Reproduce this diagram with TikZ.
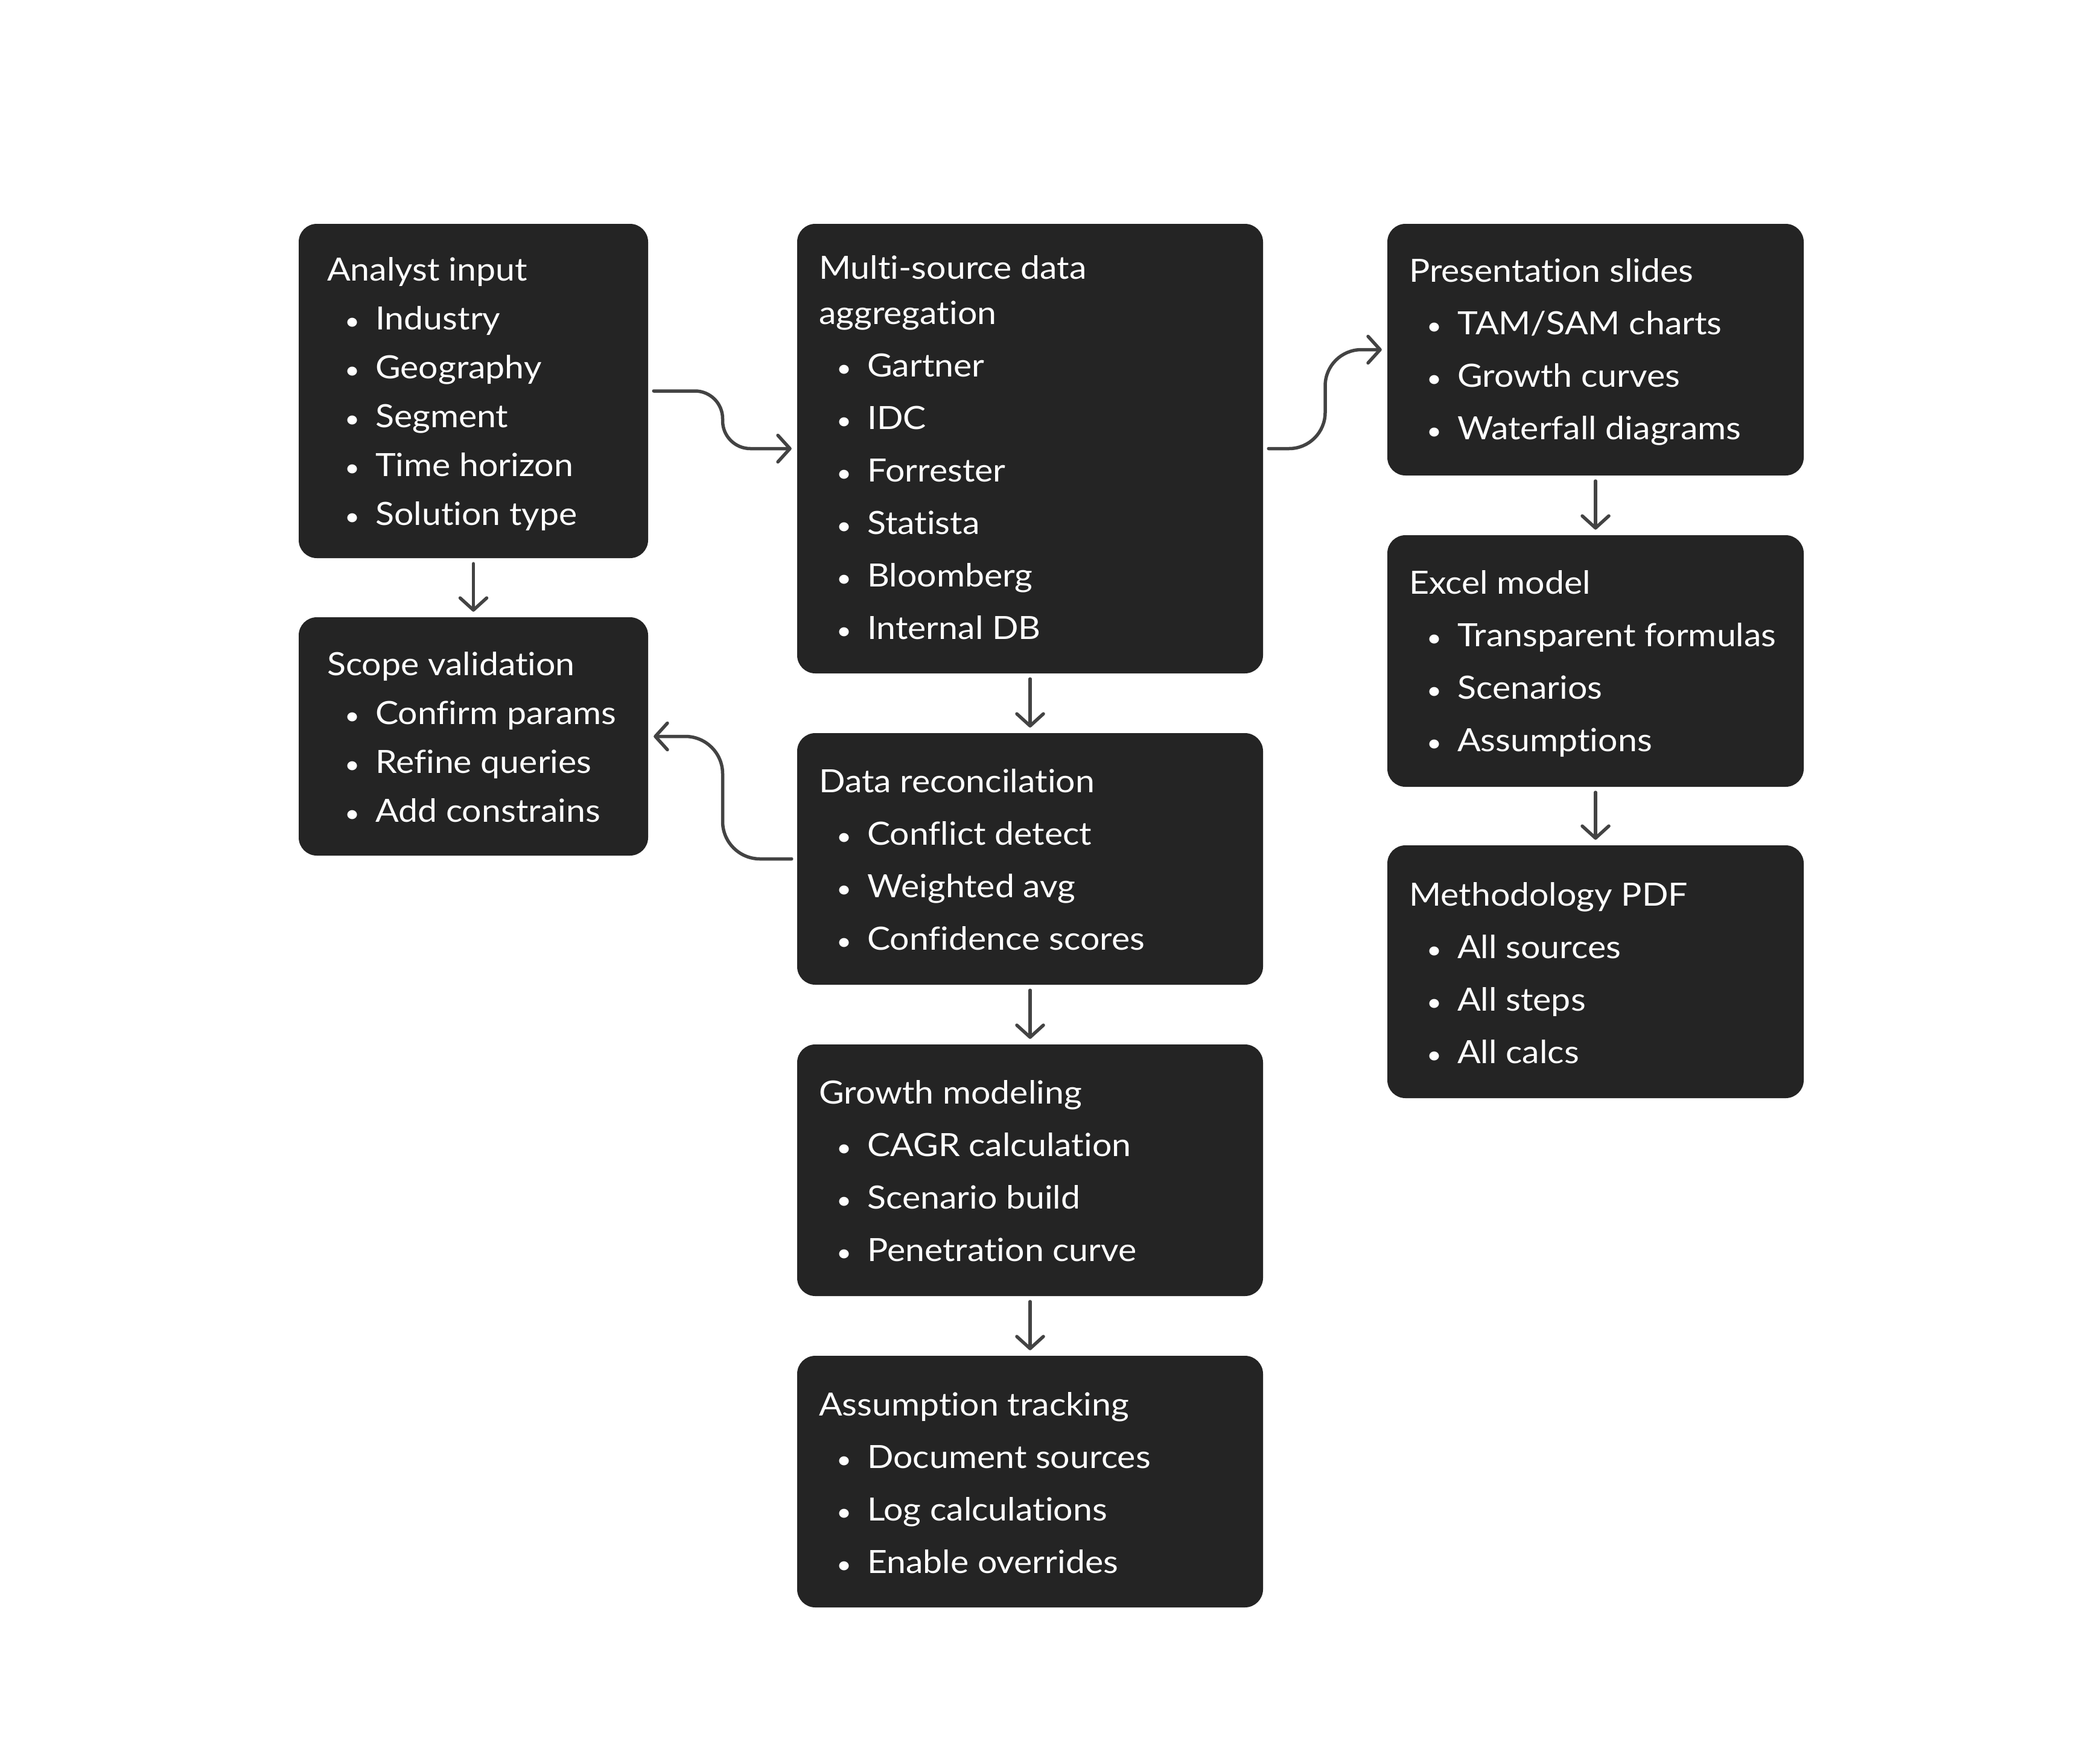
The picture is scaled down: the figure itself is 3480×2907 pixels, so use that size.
\documentclass[tikz,border=0pt]{standalone}
\usepackage{fontspec}
\setmainfont{Lato}[FakeStretch=1.08, Ligatures={NoCommon,NoRequired,NoContextual}]
\usetikzlibrary{arrows.meta,calc}
\definecolor{cardc}{HTML}{242424}
\definecolor{arrc}{HTML}{434343}
\newcommand\ttl[1]{\hbox{#1}}
\newcommand\bitem[1]{\hbox{\makebox[80pt][l]{\hspace*{29pt}{\fontsize{40pt}{40pt}\selectfont\textbullet}}#1}}
\newcommand\cardtext[2]{\vtop{\baselineskip=#1\lineskiplimit=-1000pt\relax #2}}
\tikzset{
  card/.style={fill=cardc, rounded corners=30pt, inner sep=0pt, draw=none},
  txt/.style={text=white, inner sep=0pt, anchor=base west, font=\fontsize{53pt}{81pt}\selectfont},
  conn/.style={draw=arrc, line width=5.5pt, line cap=round, line join=round,
    -{Straight Barb[round,length=20pt,width=44pt]}, shorten <=9pt, shorten >=9pt},
}
\begin{document}
\begin{tikzpicture}[x=1pt,y=-1pt]
\useasboundingbox[fill=white] (0,0) rectangle (3480,2907);

% cards
\node[card, minimum width=579pt, minimum height=554pt] (A) at (784.5,648) {};
\node[card, minimum width=579pt, minimum height=395pt] (S) at (784.5,1220.5) {};
\node[card, minimum width=772pt, minimum height=745pt] (M) at (1707,743.5) {};
\node[card, minimum width=772pt, minimum height=417pt] (R) at (1707,1423.5) {};
\node[card, minimum width=772pt, minimum height=417pt] (G) at (1707,1939.5) {};
\node[card, minimum width=772pt, minimum height=417pt] (T) at (1707,2455.5) {};
\node[card, minimum width=690pt, minimum height=417pt] (P) at (2644,579.5) {};
\node[card, minimum width=690pt, minimum height=417pt] (E) at (2644,1095.5) {};
\node[card, minimum width=690pt, minimum height=419pt] (D) at (2644,1610.5) {};

% texts
\node[txt] (A-t) at (542,465) {\cardtext{81pt}{\ttl{Analyst input}\bitem{Industry}\bitem{Geography}\bitem{Segment}\bitem{Time horizon}\bitem{Solution type}}};
\node[txt] (S-t) at (542,1119) {\cardtext{81pt}{\ttl{Scope validation}\bitem{Confirm params}\bitem{Refine queries}\bitem{Add constrains}}};
\node[txt] (M-t) at (1357,462) {\cardtext{87pt}{\ttl{Multi-source data}\vskip-12pt\ttl{aggregation}\bitem{Gartner}\bitem{IDC}\bitem{Forrester}\bitem{Statista}\bitem{Bloomberg}\bitem{Internal DB}}};
\node[txt] (R-t) at (1357,1313) {\cardtext{87pt}{\ttl{Data reconcilation}\bitem{Conflict detect}\bitem{Weighted avg}\bitem{Confidence scores}}};
\node[txt] (G-t) at (1357,1829) {\cardtext{87pt}{\ttl{Growth modeling}\bitem{CAGR calculation}\bitem{Scenario build}\bitem{Penetration curve}}};
\node[txt] (T-t) at (1357,2346) {\cardtext{87pt}{\ttl{Assumption tracking}\bitem{Document sources}\bitem{Log calculations}\bitem{Enable overrides}}};
\node[txt] (P-t) at (2335,467) {\cardtext{87pt}{\ttl{Presentation slides}\bitem{TAM/SAM charts}\bitem{Growth curves}\bitem{Waterfall diagrams}}};
\node[txt] (E-t) at (2335,984) {\cardtext{87pt}{\ttl{Excel model}\bitem{Transparent formulas}\bitem{Scenarios}\bitem{Assumptions}}};
\node[txt] (D-t) at (2335,1501) {\cardtext{87pt}{\ttl{Methodology PDF}\bitem{All sources}\bitem{All steps}\bitem{All calcs}}};

% connectors
\coordinate (m1) at ($(A.east)!.5!(M.west)$);
\coordinate (m2) at ($(M.east)!.5!(P.west)$);
\coordinate (m3) at ($(R.west)!.5!(S.east)$);
\draw[conn, rounded corners=46pt] (A.east) -- (A.east -| m1) -- (M.west -| m1) -- (M.west);
\draw[conn, rounded corners=60pt] (M.east) -- (M.east -| m2) -- (P.west -| m2) -- (P.west);
\draw[conn, rounded corners=62pt] (R.west) -- (R.west -| m3) -- (S.east -| m3) -- (S.east);
\draw[conn] (A.south) -- (S.north);
\draw[conn] (M.south) -- (R.north);
\draw[conn] (R.south) -- (G.north);
\draw[conn] (G.south) -- (T.north);
\draw[conn] (P.south) -- (E.north);
\draw[conn] (E.south) -- (D.north);
\end{tikzpicture}
\end{document}
